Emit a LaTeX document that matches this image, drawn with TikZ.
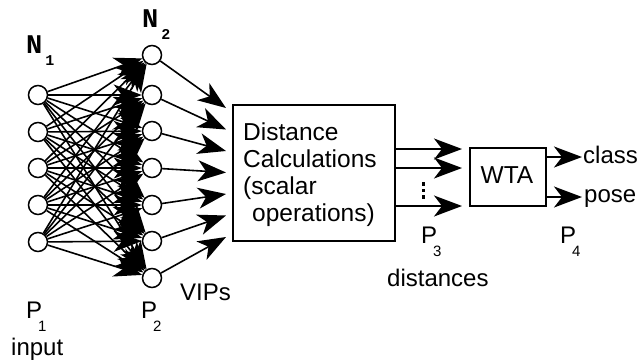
\documentclass[tikz,border=0pt]{standalone}
\usepackage{fontspec}
\setmainfont{Liberation Sans}
\newfontfamily\monof{Liberation Mono}
\usetikzlibrary{arrows.meta}

% P label with a dropped index
\newcommand\plabel[2]{#1\kern-4pt\raisebox{-13pt}{\fontsize{15}{15}\selectfont #2}}
% N label (typewriter, bold) with a dropped index
\newcommand\nlabel[1]{{\monof\bfseries\fontsize{27}{27}\selectfont N\kern3pt\raisebox{-12pt}{\fontsize{15}{15}\selectfont #1}}}

\begin{document}
\begin{tikzpicture}[x=1pt,y=-1pt,
  neuron/.style={circle, draw, line width=1.5pt, minimum size=19pt, inner sep=0pt},
  arr/.style={line width=1.6pt, -{Stealth[length=28pt,width=21pt,inset=8pt]}},
  lbl/.style={inner sep=0pt, anchor=base west, font=\fontsize{24}{27}\selectfont},
  procbox/.style={draw, line width=1.7pt, inner sep=0pt, anchor=north west},
]
\useasboundingbox (0,0) rectangle (640,362);

% input layer N1
\foreach \y [count=\i] in {95,132,168,205,242}
  \node[neuron] (a\i) at (38,\y) {};
% second layer N2
\foreach \y [count=\j] in {55,95,131,168,205,241,278}
  \node[neuron] (b\j) at (152,\y) {};

% full connection N1 -> N2
\foreach \i in {1,...,5}
  \foreach \j in {1,...,7}
    \draw[arr] (a\i) -- (b\j);

% distance calculation block
\node[procbox, minimum width=162pt, minimum height=136pt] (box) at (232,104) {};
\node[inner sep=0pt, anchor=north west, align=left,
      font=\fontsize{24.5}{27}\selectfont] (boxtext) at (243,122.5)
  {Distance\\Calculations\\(scalar\\\hspace{9pt}operations)};

% N2 -> distance block
\foreach \j in {1,...,7}
  \coordinate (t\j) at (226,{108+21.5*(\j-1)});
\foreach \j in {1,...,7}
  \draw[arr] (b\j) -- (t\j);

% distances out of the block
\coordinate (d1) at (462,149);
\coordinate (d2) at (462,168);
\coordinate (d3) at (462,206);
\foreach \k in {1,2,3}
  \draw[arr] (box.east |- d\k) -- (d\k);
\foreach \y in {184,190.5,197}
  \fill (422,\y-1.7) rectangle +(3.4,3.4);

% winner-take-all block
\node[procbox, minimum width=76pt, minimum height=58pt] (wta) at (469,147) {};
\node[inner sep=0pt, anchor=base, font=\fontsize{24.5}{27}\selectfont] (wtatext) at (507,183) {WTA};

\coordinate (c1) at (582,157);
\coordinate (c2) at (582,197);
\draw[arr] (wta.east |- c1) -- (c1);
\draw[arr] (wta.east |- c2) -- (c2);
\node[lbl, anchor=base west] (cls) at (583,163.5) {class};
\node[lbl, anchor=base west] (pose) at (584,202) {pose};

% layer labels
\node[inner sep=0pt, anchor=base west] (n1lbl) at (26,53) {\nlabel{1}};
\node[inner sep=0pt, anchor=base west] (n2lbl) at (142,27) {\nlabel{2}};

\node[lbl] (p1) at (26,318) {\plabel{P}{1}};
\node[lbl] (p2) at (141,318) {\plabel{P}{2}};
\node[lbl] (p3) at (421,243) {\plabel{P}{3}};
\node[lbl] (p4) at (560,243) {\plabel{P}{4}};

\node[lbl] (inp) at (11,355) {input};
\node[lbl] (vips) at (180,300) {VIPs};
\node[lbl] (dist) at (387,286) {distances};
\end{tikzpicture}
\end{document}
